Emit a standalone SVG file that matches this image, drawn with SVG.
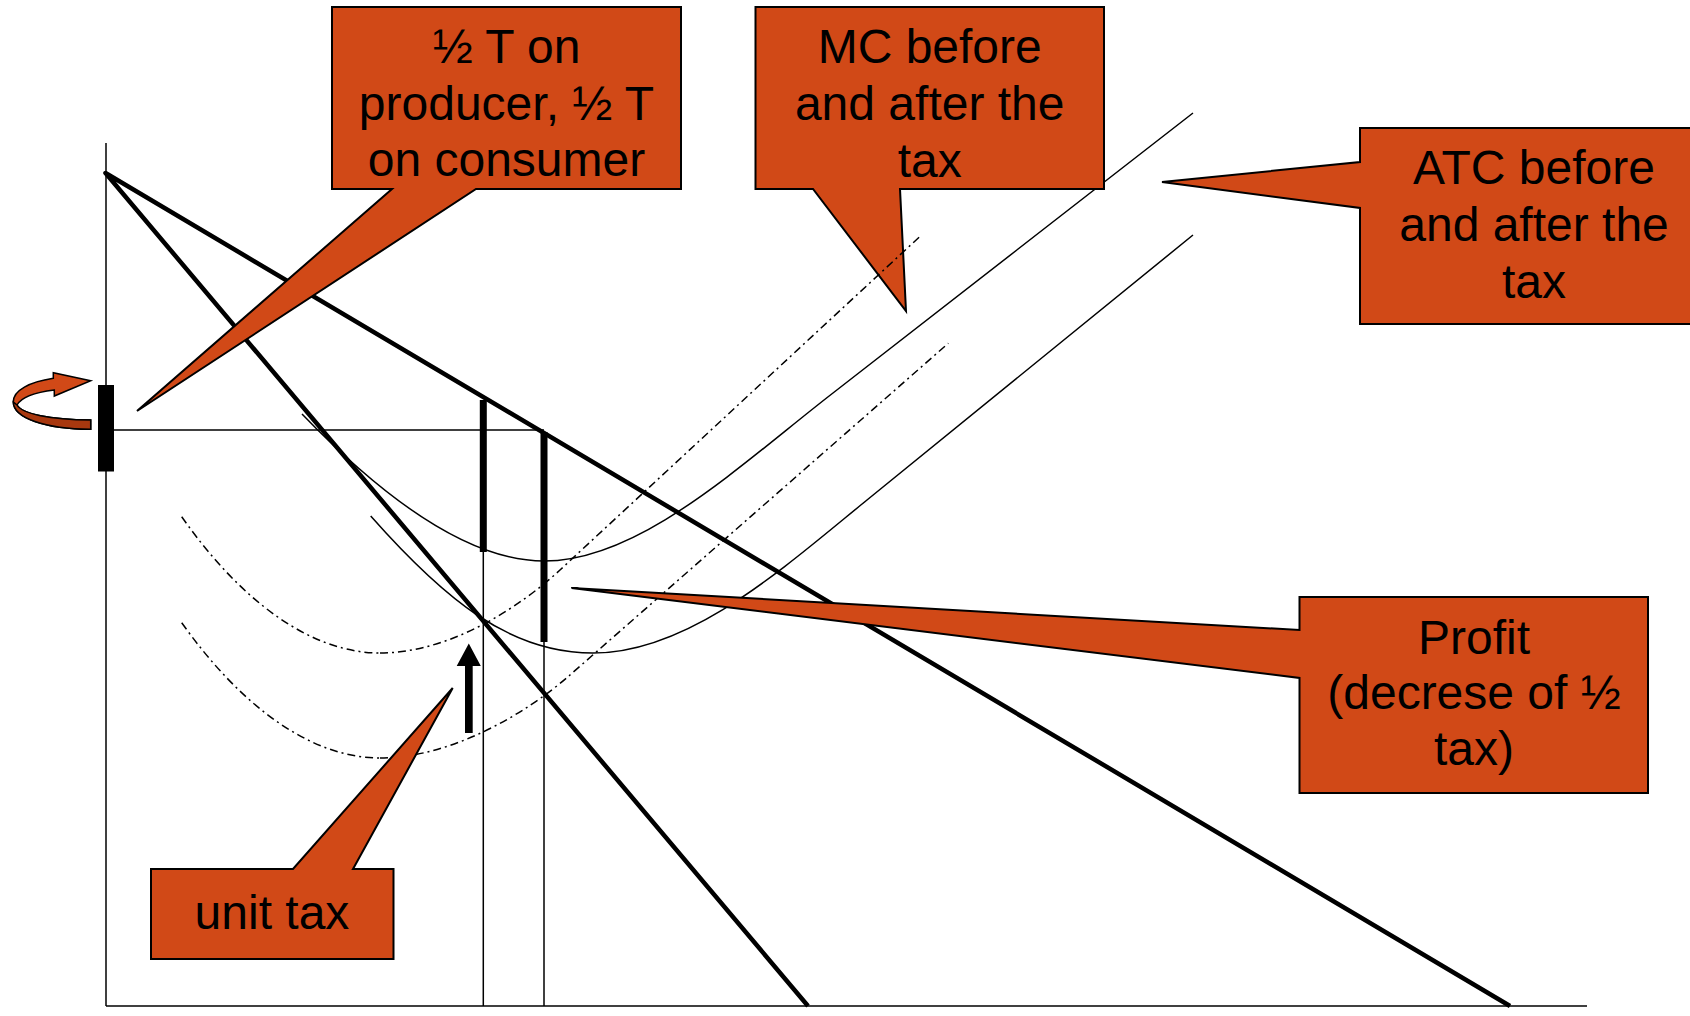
<svg xmlns="http://www.w3.org/2000/svg" width="1690" height="1016" viewBox="0 0 1690 1016">
  <style>
    .thin { fill: none; stroke: #000; stroke-width: 1.5; }
    .thick { fill: none; stroke: #000; stroke-width: 4.5; stroke-linejoin: round; }
    .bar { fill: none; stroke: #000; stroke-width: 7; }
    .mc { fill: none; stroke: #000; stroke-width: 1.5; stroke-dasharray: 8 4 2 4; }
    .callout { fill: #d14917; stroke: #000; stroke-width: 2; stroke-linejoin: miter; }
    .lbl { font-family: "Liberation Sans", Arial, sans-serif; font-size: 48px; fill: #000; text-anchor: middle; }
  </style>
  <rect x="0" y="0" width="1690" height="1016" fill="#fff"/>

  <g id="axes">
    <line class="thin" x1="106" y1="143" x2="106" y2="1006"/>
    <line class="thin" x1="106" y1="1006" x2="1587" y2="1006"/>
  </g>

  <g id="connectors">
    <!-- price line and quantity lines -->
    <line class="thin" x1="106" y1="430" x2="544" y2="430"/>
    <line class="thin" x1="483.3" y1="400" x2="483.3" y2="1006"/>
    <line class="thin" x1="544" y1="432" x2="544" y2="1006"/>
    <!-- ATC curves -->
    <path class="thin" d="M302,414 C385,500 470,561 544,561 C640,561 740,465 833,393 L1193,113"/>
    <path class="thin" d="M370.7,516 C445,600 510,653 593,653 C690,653 785,566.7 867,500 L1193,235"/>
    <!-- MC curves -->
    <path class="mc" d="M380,758 C450,758 525,714.5 570,675 L948.3,343.3"/>
    <path class="mc" d="M181.7,622.7 C240,705 310,758 380,758"/>
    <path class="mc" d="M181.7,516.7 C240,600 310,653 380,653"/>
    <!-- demand curves -->
    <polyline class="thick" points="808,1006 105.5,173 1510,1006"/>
    <!-- tax bars -->
    <line class="bar" x1="483.3" y1="400" x2="483.3" y2="552"/>
    <line class="bar" x1="544" y1="432" x2="544" y2="642"/>
  </g>

  <g id="price-bar">
    <rect x="98" y="385" width="16" height="86.5" fill="#000"/>
  </g>

  <g id="curved-arrow">
    <path d="M53.3,378.3 C30,382 13,390 13.3,402 C13.5,418 45,429 90.7,429.3 L90.7,420 C50,419.5 22,414 17,405 C22,396 38,392 54.3,390 L54.3,396 L90.7,380.7 L53.3,372.7 Z" fill="#d14917" stroke="#000" stroke-width="1.5"/>
    <path d="M13.3,402 C13.5,418 45,429 90.7,429.3 L90.7,420 C50,419.5 22,414 17,405 Z" fill="#a8380f" stroke="#000" stroke-width="1.5"/>
  </g>

  <g id="unit-tax-arrow">
    <path d="M465,733 V666 H456.7 L468.8,643.5 L480.8,666 H472.7 V733 Z" fill="#000"/>
  </g>

  <g id="callout-half-t">
    <path class="callout" d="M332,7 H681 V189 H476 L137,411 L392,189 H332 Z"/>
    <text class="lbl" x="506.5" y="63">½ T on</text>
    <text class="lbl" x="506.5" y="120">producer, ½ T</text>
    <text class="lbl" x="506.5" y="176">on consumer</text>
  </g>

  <g id="callout-mc">
    <path class="callout" d="M755.5,7 H1104 V189 H900 L906,311 L813,189 H755.5 Z"/>
    <text class="lbl" x="929.7" y="63">MC before</text>
    <text class="lbl" x="929.7" y="120">and after the</text>
    <text class="lbl" x="929.7" y="177">tax</text>
  </g>

  <g id="callout-atc">
    <path class="callout" d="M1360,128 H1708 V324 H1360 V208 L1162,182 L1360,162 Z"/>
    <text class="lbl" x="1534" y="184">ATC before</text>
    <text class="lbl" x="1534" y="241">and after the</text>
    <text class="lbl" x="1534" y="298">tax</text>
  </g>

  <g id="callout-profit">
    <path class="callout" d="M1299.5,597 H1648 V793 H1299.5 V678 L571.5,588 L1299.5,630 Z"/>
    <text class="lbl" x="1474" y="654">Profit</text>
    <text class="lbl" x="1474" y="709">(decrese of ½</text>
    <text class="lbl" x="1474" y="765">tax)</text>
  </g>

  <g id="callout-unit-tax">
    <path class="callout" d="M151,869 H293 L452.7,688 L353,869 H393.5 V959 H151 Z"/>
    <text class="lbl" x="272" y="929">unit tax</text>
  </g>

  <g id="mc-overlay">
    <path class="mc" d="M380,653 C450,653 520,607 560,570 L921.5,235"/>
  </g>
</svg>
